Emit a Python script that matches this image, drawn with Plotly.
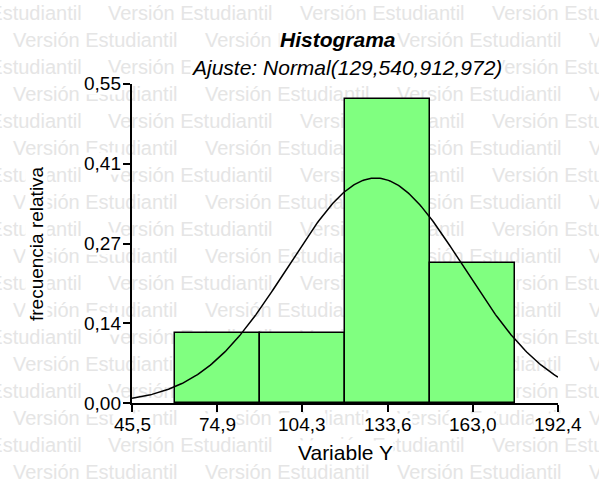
import numpy as np
import plotly.graph_objects as go

# ---- data ----
bin_edges = [60.19, 89.57, 118.95, 148.33, 177.71]
rel_freq = [0.12, 0.12, 0.525, 0.242]
fit_mean = 129.540
fit_var = 912.972
x_ticks = [45.5, 74.88, 104.26, 133.64, 163.02, 192.4]
x_ticktext = ["45,5", "74,9", "104,3", "133,6", "163,0", "192,4"]
y_ticks = [0.0, 0.1375, 0.275, 0.4125, 0.55]
y_ticktext = ["0,00", "0,14", "0,27", "0,41", "0,55"]
title_text = "Histograma"
subtitle_text = "Ajuste: Normal(129,540,912,972)"
x_title = "Variable Y"
y_title = "frecuencia relativa"
watermark = "Versión Estudiantil"

W, H = 599, 484
FONT = "Liberation Sans, Arial, sans-serif"
xdom = [132 / W, 558 / W]
ydom = [(H - 403) / H, (H - 84) / H]

centers = [(a + b) / 2 for a, b in zip(bin_edges[:-1], bin_edges[1:])]
widths = [b - a for a, b in zip(bin_edges[:-1], bin_edges[1:])]
bw = widths[0]
sd = np.sqrt(fit_var)
xc = np.linspace(x_ticks[0], x_ticks[-1], 300)
yc = bw * np.exp(-0.5 * ((xc - fit_mean) / sd) ** 2) / (sd * np.sqrt(2 * np.pi))

fig = go.Figure()

# watermark layer (pixel axes, full figure, drawn below chart)
WM_SIZE = 20
wm_w = 8.28 * WM_SIZE
wx, wy, wt, wp = [], [], [], []
for k in range(18):
    yy = 15 + 27 * k
    start = -84 if k % 2 == 0 else 13
    for n in range(4):
        s = start + 192 * n
        if s < 0:
            wx.append(s + wm_w)
            wp.append("middle left")
        else:
            wx.append(s)
            wp.append("middle right")
        wy.append(yy)
        wt.append(watermark)
fig.add_trace(go.Scatter(
    x=wx, y=wy, text=wt, mode="text", textposition=wp,
    textfont=dict(family=FONT, size=WM_SIZE, color="#e5e5e5"),
    hoverinfo="skip", showlegend=False, xaxis="x", yaxis="y", cliponaxis=True))

fig.add_trace(go.Bar(
    x=centers, y=rel_freq, width=widths,
    marker=dict(color="#80ff80", line=dict(color="black", width=1.5)),
    xaxis="x2", yaxis="y2", showlegend=False))
fig.add_trace(go.Scatter(
    x=xc, y=yc, mode="lines", line=dict(color="black", width=1.5),
    xaxis="x2", yaxis="y2", showlegend=False, cliponaxis=False))

ann = []
ann.append(dict(text="<b><i>" + title_text + "</i></b>", x=338 / W, y=1 - 40 / H,
                xref="paper", yref="paper", xanchor="center", yanchor="middle",
                showarrow=False, font=dict(family=FONT, size=21, color="black"),
                bgcolor="white", borderpad=0))
ann.append(dict(text="<i>" + subtitle_text + "</i>", x=346 / W, y=1 - 67 / H,
                xref="paper", yref="paper", xanchor="center", yanchor="middle",
                showarrow=False, font=dict(family=FONT, size=21, color="black"),
                bgcolor="white", borderpad=0))
ann.append(dict(text=x_title, x=345 / W, y=1 - 452 / H,
                xref="paper", yref="paper", xanchor="center", yanchor="middle",
                showarrow=False, font=dict(family=FONT, size=21, color="black"),
                bgcolor="white", borderpad=0))
ann.append(dict(text=y_title, x=36 / W, y=1 - 244 / H, textangle=-90,
                xref="paper", yref="paper", xanchor="center", yanchor="middle",
                showarrow=False, font=dict(family=FONT, size=19, color="black"),
                bgcolor="white", borderpad=0))
for v, t in zip(x_ticks, x_ticktext):
    ann.append(dict(text=t, x=v, y=ydom[0], xref="x2", yref="paper",
                    xanchor="center", yanchor="top", yshift=-10, showarrow=False,
                    font=dict(family=FONT, size=19, color="black"),
                    bgcolor="white", borderpad=0))
for v, t in zip(y_ticks, y_ticktext):
    ann.append(dict(text=t, x=xdom[0], y=v, xref="paper", yref="y2",
                    xanchor="right", yanchor="middle", xshift=-10, showarrow=False,
                    font=dict(family=FONT, size=19, color="black"),
                    bgcolor="white", borderpad=0))

fig.update_layout(
    width=W, height=H, margin=dict(l=0, r=0, t=0, b=0),
    paper_bgcolor="white", plot_bgcolor="rgba(0,0,0,0)",
    bargap=0, showlegend=False,
    xaxis=dict(domain=[0, 1], range=[0, W], visible=False, fixedrange=True),
    yaxis=dict(domain=[0, 1], range=[H, 0], visible=False, fixedrange=True),
    xaxis2=dict(domain=xdom, range=[x_ticks[0], x_ticks[-1]], anchor="y2",
                tickvals=x_ticks, showticklabels=False, ticks="outside",
                ticklen=7, tickwidth=1.5, tickcolor="black",
                showline=True, linecolor="black", linewidth=1.5,
                showgrid=False, zeroline=False),
    yaxis2=dict(domain=ydom, range=[0, 0.55], anchor="x2",
                tickvals=y_ticks, showticklabels=False, ticks="outside",
                ticklen=7, tickwidth=1.5, tickcolor="black",
                showline=True, linecolor="black", linewidth=1.5,
                showgrid=False, zeroline=False),
    annotations=ann,
)

fig.write_html("out.html")
